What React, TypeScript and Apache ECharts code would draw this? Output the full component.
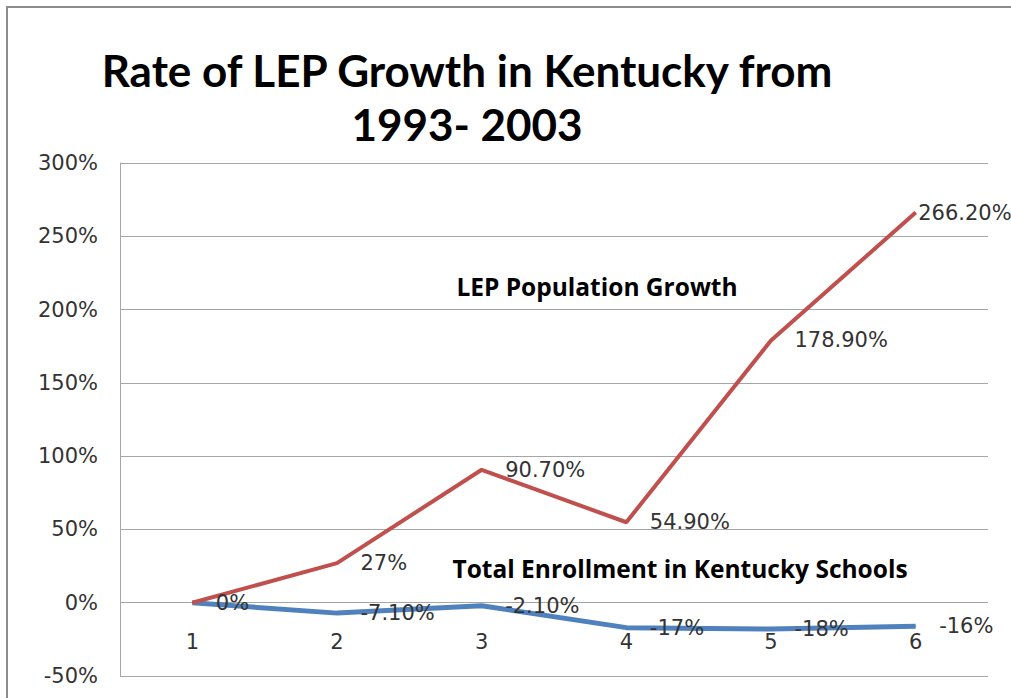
import React, { useEffect, useRef } from "react";
import * as echarts from "echarts";

const categories = ["1", "2", "3", "4", "5", "6"];
const lepGrowth = [0, 27, 90.7, 54.9, 178.9, 266.2];
const lepLabels = ["0%", "27%", "90.70%", "54.90%", "178.90%", "266.20%"];
const enrollment = [0, -7.1, -2.1, -17, -18, -16];
const enrollmentLabels = ["", "-7.10%", "-2.10%", "-17%", "-18%", "-16%"];
const yMin = -50;
const yMax = 300;
const yStep = 50;

const titleText = "Rate of LEP Growth in Kentucky from\n1993- 2003";
const lepName = "LEP Population Growth";
const enrollName = "Total Enrollment in Kentucky Schools";

const labelFont = "DejaVu Sans";
const titleFont = "Lato";
const noteFont = "Open Sans";

export default function App() {
  const ref = useRef<HTMLDivElement>(null);
  useEffect(() => {
    document.body.style.margin = "0";
    const chart = echarts.init(ref.current!, null, { renderer: "svg" });
    const mkData = (vals: number[], labels: string[], lastDist: number | null) =>
      vals.map((v, i) => {
        const item: any = { value: v };
        if (!labels[i]) item.label = { show: false };
        else if (lastDist !== null && i === vals.length - 1) item.label = { distance: lastDist };
        return item;
      });
    const labelStyle = {
      show: true,
      position: "right",
      distance: 23,
      fontFamily: labelFont,
      fontSize: 21,
      color: "#333333",
    };
    chart.setOption({
      animation: false,
      backgroundColor: "#ffffff",
      grid: {
        left: 120,
        right: 23,
        top: 163,
        bottom: 22,
        containLabel: false,
        outerBoundsMode: "none",
      },
      xAxis: {
        type: "category",
        data: categories,
        boundaryGap: true,
        position: "bottom",
        axisLine: { show: false, onZero: false },
        axisTick: { show: false },
        axisLabel: { margin: -45, fontFamily: labelFont, fontSize: 21, color: "#333333" },
        splitLine: { show: false },
      },
      yAxis: {
        type: "value",
        min: yMin,
        max: yMax,
        interval: yStep,
        axisLine: { show: true, lineStyle: { color: "#a6a6a6", width: 1 } },
        axisTick: { show: false },
        axisLabel: {
          margin: 22,
          fontFamily: labelFont,
          fontSize: 21,
          color: "#333333",
          formatter: (v: number) => v + "%",
        },
        splitLine: { show: true, lineStyle: { color: "#a6a6a6", width: 1 } },
      },
      series: [
        {
          name: enrollName,
          type: "line",
          data: mkData(enrollment, enrollmentLabels, null),
          symbol: "circle",
          symbolSize: 1,
          showSymbol: true,
          lineStyle: { color: "#4F81BD", width: 5 },
          itemStyle: { color: "#4F81BD" },
          z: 2,
          label: { ...labelStyle, formatter: (p: any) => enrollmentLabels[p.dataIndex] },
        },
        {
          name: lepName,
          type: "line",
          data: mkData(lepGrowth, lepLabels, 2),
          symbol: "circle",
          symbolSize: 1,
          showSymbol: true,
          lineStyle: { color: "#C0504D", width: 4 },
          itemStyle: { color: "#C0504D" },
          z: 3,
          label: { ...labelStyle, formatter: (p: any) => lepLabels[p.dataIndex] },
        },
      ],
      graphic: [
        {
          type: "polyline",
          shape: { points: [[7, 760], [7, 7], [1060, 7]] },
          style: { fill: "none", stroke: "#8c8c8c", lineWidth: 2 },
          silent: true,
        },
        {
          type: "text",
          x: 467,
          y: 97,
          style: {
            text: titleText,
            align: "center",
            verticalAlign: "middle",
            fontFamily: titleFont,
            fontWeight: "bold",
            fontSize: 44,
            lineHeight: 54,
            fill: "#000000",
          },
        },
        {
          type: "text",
          x: 597,
          y: 286,
          style: {
            text: lepName,
            align: "center",
            verticalAlign: "middle",
            fontFamily: noteFont,
            fontWeight: "bold",
            fontSize: 24.5,
            fill: "#000000",
          },
        },
        {
          type: "text",
          x: 680,
          y: 568,
          style: {
            text: enrollName,
            align: "center",
            verticalAlign: "middle",
            fontFamily: noteFont,
            fontWeight: "bold",
            fontSize: 24.5,
            fill: "#000000",
          },
        },
      ],
    });
    return () => chart.dispose();
  }, []);
  return (
    <div
      ref={ref}
      style={{ position: "fixed", left: 0, top: 0, width: 1011, height: 698 }}
    />
  );
}
